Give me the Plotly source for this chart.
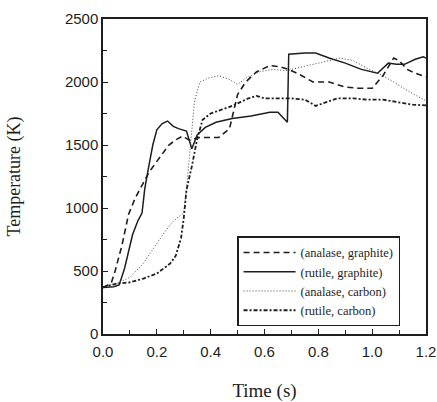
import plotly.graph_objects as go

# --- data ---
t_ag = [0, 0.03, 0.045, 0.07, 0.095, 0.12, 0.15, 0.17, 0.2, 0.245, 0.27, 0.295, 0.32, 0.36, 0.43, 0.47, 0.5, 0.53, 0.57, 0.62, 0.66, 0.69, 0.73, 0.78, 0.84, 0.9, 0.95, 1.0, 1.04, 1.08, 1.1, 1.13, 1.16, 1.2]
T_ag = [370, 400, 500, 700, 950, 1080, 1200, 1280, 1370, 1500, 1540, 1570, 1540, 1560, 1560, 1630, 1900, 2000, 2080, 2130, 2120, 2100, 2060, 2000, 2000, 1960, 1950, 1950, 2050, 2190, 2170, 2100, 2070, 2040]

t_rg = [0, 0.02, 0.04, 0.06, 0.08, 0.11, 0.13, 0.145, 0.155, 0.17, 0.185, 0.2, 0.22, 0.24, 0.26, 0.28, 0.31, 0.33, 0.35, 0.38, 0.42, 0.48, 0.55, 0.62, 0.65, 0.685, 0.69, 0.75, 0.79, 0.84, 0.9, 0.96, 1.02, 1.06, 1.09, 1.12, 1.16, 1.19, 1.2]
T_rg = [370, 370, 375, 390, 520, 790, 900, 960, 1150, 1330, 1500, 1620, 1670, 1690, 1650, 1630, 1610, 1470, 1580, 1640, 1680, 1710, 1730, 1760, 1760, 1680, 2220, 2230, 2230, 2190, 2150, 2100, 2070, 2150, 2140, 2140, 2180, 2200, 2190]

t_ac = [0, 0.05, 0.1, 0.15, 0.2, 0.25, 0.28, 0.3, 0.31, 0.32, 0.33, 0.34, 0.36, 0.39, 0.43, 0.47, 0.5, 0.53, 0.58, 0.63, 0.68, 0.72, 0.78, 0.85, 0.88, 0.93, 0.98, 1.03, 1.08, 1.14, 1.2]
T_ac = [370, 400, 450, 560, 720, 870, 930, 960, 1150, 1400, 1650, 1850, 2000, 2030, 2050, 2020, 1980, 2030, 2080, 2100, 2090, 2110, 2140, 2170, 2190, 2170, 2110, 2060, 2000, 1920, 1850]

t_rc = [0, 0.05, 0.1, 0.15, 0.2, 0.25, 0.27, 0.29, 0.3, 0.31, 0.33, 0.35, 0.37, 0.4, 0.44, 0.48, 0.51, 0.54, 0.57, 0.6, 0.65, 0.7, 0.75, 0.79, 0.83, 0.87, 0.93, 0.98, 1.04, 1.1, 1.15, 1.2]
T_rc = [370, 400, 410, 440, 480, 560, 620, 760, 920, 1140, 1330, 1550, 1700, 1750, 1780, 1810, 1840, 1870, 1890, 1870, 1870, 1870, 1860, 1810, 1840, 1870, 1870, 1860, 1860, 1840, 1820, 1815]

names = ["(analase, graphite)", "(rutile, graphite)", "(analase, carbon)", "(rutile, carbon)"]

x_ticks = [0.0, 0.2, 0.4, 0.6, 0.8, 1.0, 1.2]
x_labels = ["0.0", "0.2", "0.4", "0.6", "0.8", "1.0", "1.2"]
y_ticks = [0, 500, 1000, 1500, 2000, 2500]

ink = "#1e1e1e"
fig = go.Figure()
fig.add_trace(go.Scatter(x=t_ag, y=T_ag, mode="lines", name=names[0],
                         line=dict(color=ink, width=1.6, dash="6px,4px")))
fig.add_trace(go.Scatter(x=t_rg, y=T_rg, mode="lines", name=names[1],
                         line=dict(color=ink, width=1.5)))
fig.add_trace(go.Scatter(x=t_ac, y=T_ac, mode="lines", name=names[2],
                         line=dict(color="#444", width=1, dash="1px,2px")))
fig.add_trace(go.Scatter(x=t_rc, y=T_rc, mode="lines", name=names[3],
                         line=dict(color=ink, width=1.8, dash="4px,2px,2px,2px")))

fig.update_layout(
    width=437, height=402,
    margin=dict(l=103, r=11, t=19, b=68, autoexpand=False),
    paper_bgcolor="white", plot_bgcolor="white",
    showlegend=True,
    legend=dict(x=0.415, y=0.31, xanchor="left", yanchor="top",
                bgcolor="white", bordercolor=ink, borderwidth=1.5,
                font=dict(family="Liberation Serif", size=12.5, color=ink),
                tracegroupgap=0, itemwidth=52),
    font=dict(family="Liberation Sans", color=ink),
)
fig.update_xaxes(range=[0, 1.2], tickvals=x_ticks, ticktext=x_labels, automargin=False,
                 ticks="inside", ticklen=5, tickcolor=ink, ticklabelstandoff=3,
                 ticklabeloverflow="allow",
                 minor=dict(dtick=0.1, tick0=0, ticks="inside", ticklen=4, tickcolor=ink),
                 showline=True, linecolor=ink, linewidth=1.5, mirror=True,
                 showgrid=False, zeroline=False,
                 tickfont=dict(family="Liberation Sans", size=15, color=ink),
                 title=dict(text="Time (s)", font=dict(family="Liberation Serif", size=19, color=ink), standoff=35))
fig.update_yaxes(range=[0, 2500], tickvals=y_ticks, automargin=False,
                 ticks="inside", ticklen=5, tickcolor=ink,
                 minor=dict(dtick=250, tick0=0, ticks="inside", ticklen=4, tickcolor=ink),
                 showline=True, linecolor=ink, linewidth=1.5, mirror=True,
                 showgrid=False, zeroline=False,
                 tickfont=dict(family="Liberation Sans", size=15, color=ink),
                 title=dict(text="Temperature (K)", font=dict(family="Liberation Serif", size=18, color=ink), standoff=40))

fig.write_html("out.html", config={"displayModeBar": False},
               post_script="document.body.style.margin='0';document.body.style.overflow='hidden';")
